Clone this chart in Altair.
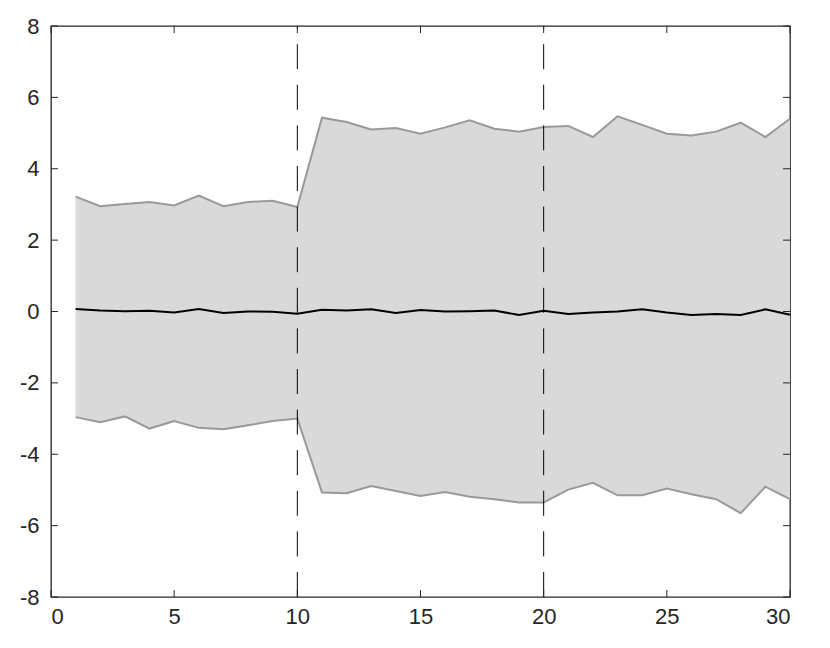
import altair as alt
import pandas as pd

steps = list(range(1, 31))
upper = [3.22, 2.95, 3.01, 3.07, 2.97, 3.25, 2.95, 3.07, 3.10, 2.93,
         5.43, 5.31, 5.10, 5.14, 4.98, 5.16, 5.36, 5.12, 5.04, 5.17,
         5.20, 4.89, 5.47, 5.23, 4.98, 4.93, 5.04, 5.29, 4.89, 5.40]
lower = [-2.96, -3.10, -2.94, -3.28, -3.07, -3.26, -3.30, -3.19, -3.07, -3.00,
         -5.07, -5.09, -4.89, -5.03, -5.17, -5.06, -5.19, -5.26, -5.35, -5.35,
         -4.99, -4.80, -5.15, -5.15, -4.96, -5.12, -5.26, -5.65, -4.91, -5.26]
mean = [0.07, 0.03, 0.01, 0.02, -0.03, 0.07, -0.04, 0.00, -0.01, -0.06,
        0.05, 0.03, 0.06, -0.04, 0.04, 0.00, 0.01, 0.03, -0.10, 0.02,
        -0.07, -0.03, 0.00, 0.06, -0.03, -0.10, -0.07, -0.10, 0.06, -0.09]
breaks = [10, 20]
x_ticks = [0, 5, 10, 15, 20, 25, 30]
y_ticks = [-8, -6, -4, -2, 0, 2, 4, 6, 8]

W, H = 739, 571

df = pd.DataFrame({"x": steps, "upper": upper, "lower": lower, "mean": mean})
df_breaks = pd.DataFrame({"x": breaks})
df_xt = pd.DataFrame({"x": x_ticks})
df_yt = pd.DataFrame({"y": y_ticks})

xscale = alt.Scale(domain=[0, 30], nice=False, zero=False)
yscale = alt.Scale(domain=[-8, 8], nice=False, zero=False)
label_style = dict(labelFont="Liberation Sans", labelFontSize=22, labelColor="#262626")
xaxis = alt.Axis(values=x_ticks, title=None, ticks=False, domain=False, grid=False,
                 labelPadding=9, labelExpr="datum.value + ''", **label_style)
yaxis = alt.Axis(values=y_ticks, title=None, ticks=False, domain=False, grid=False,
                 labelPadding=12, labelExpr="datum.value + ''", **label_style)

base = alt.Chart(df)

area = base.mark_area(color="#d9d9d9", opacity=1).encode(
    x=alt.X("x:Q", scale=xscale, axis=xaxis),
    y=alt.Y("lower:Q", scale=yscale, axis=yaxis),
    y2="upper:Q",
)
up_line = base.mark_line(color="#999999", strokeWidth=2).encode(
    x=alt.X("x:Q", scale=xscale),
    y=alt.Y("upper:Q", scale=yscale),
)
lo_line = base.mark_line(color="#999999", strokeWidth=2).encode(
    x=alt.X("x:Q", scale=xscale),
    y=alt.Y("lower:Q", scale=yscale),
)
dashes = alt.Chart(df_breaks).mark_rule(color="#000000", strokeWidth=1,
                                          strokeDash=[25, 15.6]).encode(
    x=alt.X("x:Q", scale=xscale),
    y=alt.value(H),
    y2=alt.value(0),
)
mean_line = base.mark_line(color="#000000", strokeWidth=2).encode(
    x=alt.X("x:Q", scale=xscale),
    y=alt.Y("mean:Q", scale=yscale),
)
tick_col = "#262626"
xt_bot = alt.Chart(df_xt).mark_rule(color=tick_col, strokeWidth=1).encode(
    x=alt.X("x:Q", scale=xscale), y=alt.value(H), y2=alt.value(H - 7))
xt_top = alt.Chart(df_xt).mark_rule(color=tick_col, strokeWidth=1).encode(
    x=alt.X("x:Q", scale=xscale), y=alt.value(0), y2=alt.value(7))
yt_left = alt.Chart(df_yt).mark_rule(color=tick_col, strokeWidth=1).encode(
    y=alt.Y("y:Q", scale=yscale), x=alt.value(0), x2=alt.value(7))
yt_right = alt.Chart(df_yt).mark_rule(color=tick_col, strokeWidth=1).encode(
    y=alt.Y("y:Q", scale=yscale), x=alt.value(W), x2=alt.value(W - 7))

chart = alt.layer(area, up_line, lo_line, dashes, mean_line,
                  xt_bot, xt_top, yt_left, yt_right).properties(
    width=W, height=H,
    autosize=alt.AutoSizeParams(type="none"),
    padding={"left": 43, "top": 18, "right": 30, "bottom": 40},
    background="white",
).configure_view(
    stroke="#262626", strokeWidth=1.3
)

chart.save("out.html", embed_options={"renderer": "svg", "actions": False})
